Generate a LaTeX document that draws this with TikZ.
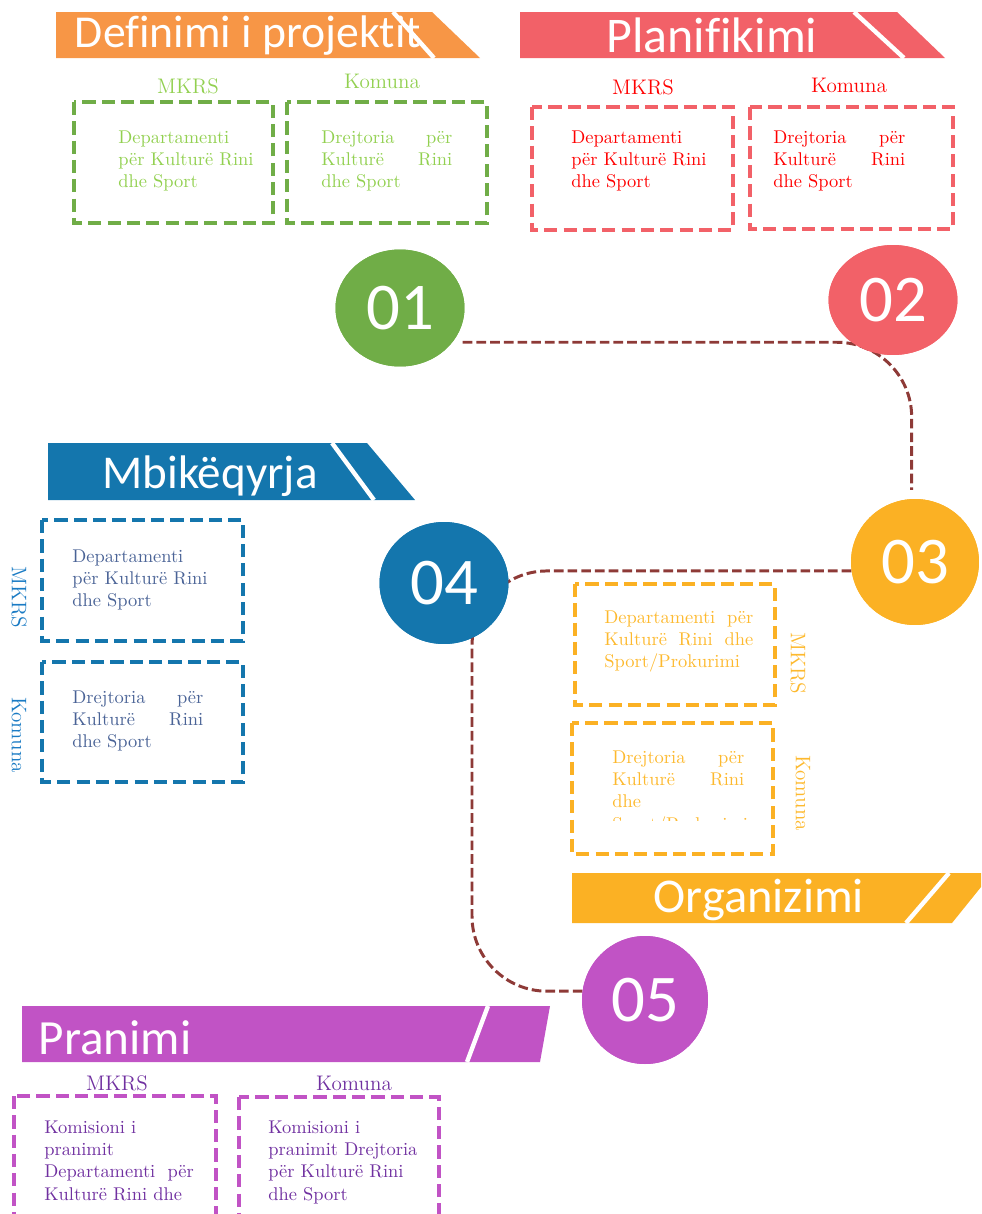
\documentclass[tikz,border=0pt]{standalone}
\usepackage{fontspec}
\usetikzlibrary{shapes.geometric}
\newfontfamily\carlito[Ligatures=NoCommon]{Carlito}

\definecolor{defor}{HTML}{F79646}
\definecolor{grn}{HTML}{70AD47}
\definecolor{grntxt}{HTML}{92D050}
\definecolor{plred}{HTML}{F26168}
\definecolor{redtxt}{HTML}{FF0000}
\definecolor{mbblue}{HTML}{1476AD}
\definecolor{bluetxt}{HTML}{4A6396}
\definecolor{bluelbl}{HTML}{1A7BC4}
\definecolor{orgyel}{HTML}{FBB124}
\definecolor{yeltxt}{HTML}{FDB92E}
\definecolor{prpl}{HTML}{C153C5}
\definecolor{prpltxt}{HTML}{7030A0}
\definecolor{linkred}{HTML}{8E3A37}

\newcommand{\boxtxt}[2]{\parbox[t]{#1}{\raggedright\fontsize{10.5}{12.8}\selectfont #2}}

\tikzset{
  dbox/.style={line width=2.3pt, dash pattern=on 7.5pt off 3.5pt},
  stripe/.style={draw=white, line width=2.5pt},
  link/.style={draw=linkred, line width=1.7pt, dash pattern=on 5.5pt off 2.3pt, rounded corners=1.5cm},
  numcirc/.style={ellipse, inner sep=0pt, text=white, font=\carlito\fontsize{38}{38}\selectfont},
  title/.style={text=white, anchor=base, inner sep=0pt},
  lbl/.style={anchor=base, inner sep=0pt, font=\fontsize{12}{14}\selectfont},
  txt/.style={anchor=base west, inner sep=0pt}
}

\begin{document}
\begin{tikzpicture}[x=0.02cm,y=-0.02cm]
\useasboundingbox (0,0) rectangle (981,1214);
\clip (0,0) rectangle (981,1214);

% 01 Definimi i projektit
\fill[defor] (56,12) -- (432,12) -- (480,58) -- (56,58) -- cycle;
\node[title, font=\carlito\fontsize{26}{26}\selectfont] (tdef) at (248,47) {Definimi i projektit};
\draw[stripe] (393,12) -- (434,58);
\draw[dbox, grn] (74,102) rectangle (273,223);
\draw[dbox, grn] (287,102) rectangle (487,223);
\node[lbl, text=grntxt] (gmk) at (188,93) {MKRS};
\node[lbl, text=grntxt] (gko) at (382,88) {Komuna};
\node[txt, text=grntxt] (gt1) at (118,143) {\boxtxt{2.8cm}{Departamenti\\ për Kulturë Rini\\ dhe Sport}};
\node[txt, text=grntxt] (gt2) at (321,143) {\boxtxt{2.62cm}{Drejtoria \hfill për\\ Kulturë \hfill Rini\\ dhe Sport}};

% 02 Planifikimi
\fill[plred] (520,12) -- (897,12) -- (945,58) -- (520,58) -- cycle;
\node[title, font=\carlito\fontsize{28.4}{28.4}\selectfont] (tpla) at (712,52) {Planifikimi};
\draw[stripe] (854,12) -- (904,58);
\draw[dbox, plred] (532,107) rectangle (733,230);
\draw[dbox, plred] (750,107) rectangle (953,229);
\node[lbl, text=redtxt] (rmk) at (643,94) {MKRS};
\node[lbl, text=redtxt] (rko) at (849,92) {Komuna};
\node[txt, text=redtxt] (rt1) at (571,143) {\boxtxt{2.8cm}{Departamenti\\ për Kulturë Rini\\ dhe Sport}};
\node[txt, text=redtxt] (rt2) at (773,143) {\boxtxt{2.64cm}{Drejtoria \hfill për\\ Kulturë \hfill Rini\\ dhe Sport}};

% 04 Mbikeqyrja
\fill[mbblue] (48,443) -- (367,443) -- (415,500) -- (48,500) -- cycle;
\node[title, font=\carlito\fontsize{26.8}{26.8}\selectfont] (tmbi) at (210,488) {Mbikëqyrja};
\draw[stripe] (332,443) -- (374,500);
\draw[dbox, mbblue] (42,520) rectangle (243,641);
\draw[dbox, mbblue] (42,662) rectangle (243,782);
\node[lbl, text=bluelbl, rotate=-90, anchor=center] (bmk) at (19,597) {MKRS};
\node[lbl, text=bluelbl, rotate=-90, anchor=center] (bko) at (19,735) {Komuna};
\node[txt, text=bluetxt] (bt1) at (72,562) {\boxtxt{2.8cm}{Departamenti\\ për Kulturë Rini\\ dhe Sport}};
\node[txt, text=bluetxt] (bt2) at (72,703) {\boxtxt{2.62cm}{Drejtoria \hfill për\\ Kulturë \hfill Rini\\ dhe Sport}};

% 03 Organizimi
\fill[orgyel] (572,873) -- (981,873) -- (981,887) -- (952,923) -- (572,923) -- cycle;
\node[title, font=\carlito\fontsize{27.6}{27.6}\selectfont] (torg) at (759,912) {Organizimi};
\draw[stripe] (949,873) -- (906,923);
\draw[dbox, orgyel] (575,584) rectangle (775,705);
\draw[dbox, orgyel] (572,723) rectangle (773,854);
\node[lbl, text=yeltxt, rotate=-90, anchor=center] (ymk) at (798,663) {MKRS};
\node[lbl, text=yeltxt, rotate=-90, anchor=center] (yko) at (803,793) {Komuna};
\node[txt, text=yeltxt] (yt1) at (604,623) {\boxtxt{2.98cm}{Departamenti \hfill për\\ Kulturë \hfill Rini \hfill dhe\\ Sport/Prokurimi}};
\begin{scope}
  \clip (572,723) rectangle (773,820);
  \node[txt, text=yeltxt] (yt2) at (612,763) {\boxtxt{2.64cm}{Drejtoria \hfill për\\ Kulturë \hfill Rini\\ dhe\\ Sport/Prokurimi}};
\end{scope}

% 05 Pranimi
\fill[prpl] (22,1006) -- (550,1006) -- (540,1062) -- (22,1062) -- cycle;
\node[title, font=\carlito\fontsize{28}{28}\selectfont] (tpra) at (115,1054) {Pranimi};
\draw[stripe] (488,1006) -- (467,1062);
\draw[dbox, prpl] (14,1096) rectangle (216,1250);
\draw[dbox, prpl] (239,1097) rectangle (439,1250);
\node[lbl, text=prpltxt] (pmk) at (117,1090) {MKRS};
\node[lbl, text=prpltxt] (pko) at (354,1090) {Komuna};
\node[txt, text=prpltxt] (pt1) at (44,1133) {\boxtxt{3cm}{Komisioni i\\ pranimit\\ Departamenti\ \ për\\ Kulturë Rini dhe}};
\node[txt, text=prpltxt] (pt2) at (268,1133) {\boxtxt{3cm}{Komisioni i\\ pranimit Drejtoria\\ për Kulturë Rini\\ dhe Sport}};

% steps
\coordinate (bend) at (472,0);
\path (400,308) node[numcirc, fill=grn, minimum width=2.58cm, minimum height=2.34cm] (n1) {}
      (893,300) node[numcirc, fill=plred, minimum width=2.58cm, minimum height=2.2cm] (n2) {}
      (915,562) node[numcirc, fill=orgyel, minimum width=2.56cm, minimum height=2.52cm] (n3) {}
      (444,583) node[numcirc, fill=mbblue, minimum width=2.58cm, minimum height=2.44cm] (n4) {}
      (645,1000) node[numcirc, fill=prpl, minimum width=2.52cm, minimum height=2.56cm] (n5) {};
\draw[link] ([xshift=0.2cm]n1.-33) -| ([yshift=0.18cm]n3.93);
\draw[link] (n3.188) -- (n3.188 -| bend) -- (bend |- n5.172) -- (n5.172);
\node[numcirc, fill=grn, minimum width=2.58cm, minimum height=2.34cm] at (n1) {01};
\node[numcirc, fill=plred, minimum width=2.58cm, minimum height=2.2cm] at (n2) {02};
\node[numcirc, fill=orgyel, minimum width=2.56cm, minimum height=2.52cm] at (n3) {03};
\node[numcirc, fill=mbblue, minimum width=2.58cm, minimum height=2.44cm] at (n4) {04};
\node[numcirc, fill=prpl, minimum width=2.52cm, minimum height=2.56cm] at (n5) {05};
\end{tikzpicture}
\end{document}
